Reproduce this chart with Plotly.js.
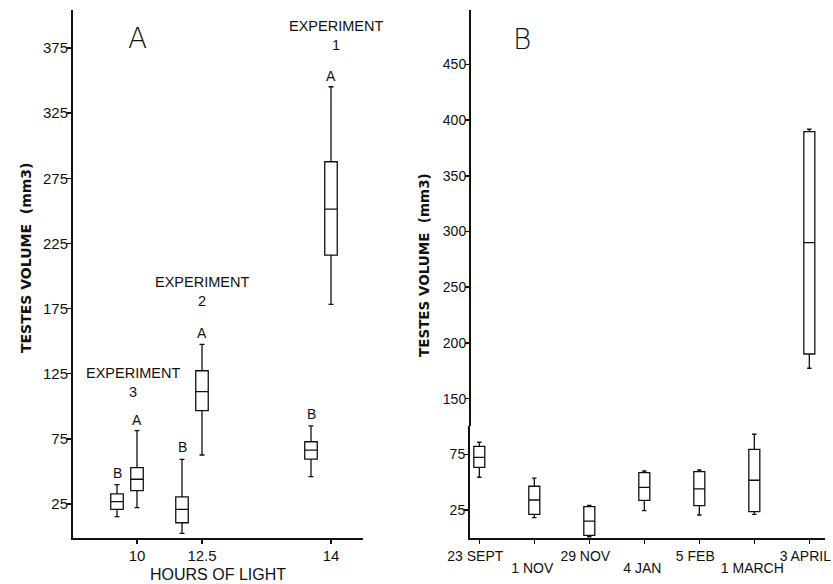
<!DOCTYPE html>
<html>
<head>
<meta charset="utf-8">
<script src="https://cdn.plot.ly/plotly-3.0.1.min.js"></script>
<style>html,body{margin:0;padding:0;background:#fff;}#chart{width:833px;height:584px;}</style>
</head>
<body>
<div id="chart"></div>
<script>
// ---------- Panel A data (testes volume, mm3) ----------
const hoursLabels = ['10', '12.5', '14'];
const experimentNames = ['3', '2', '1'];
// group "A" (long photoperiod in each experiment)
const grpA_low = [22.2, 62.6, 178.3];
const grpA_q1 = [35.2, 96.6, 216.1];
const grpA_med = [44.0, 111.2, 251.4];
const grpA_q3 = [52.9, 127.3, 287.7];
const grpA_high = [81.3, 147.6, 345.3];
// group "B" (control in each experiment)
const grpB_low = [15.3, 2.5, 46.0];
const grpB_q1 = [20.9, 10.6, 59.5];
const grpB_med = [26.8, 20.9, 66.4];
const grpB_q3 = [32.7, 30.4, 72.8];
const grpB_high = [39.8, 59.3, 84.9];

// ---------- Panel B data ----------
const dates = ['23 SEPT', '1 NOV', '29 NOV', '4 JAN', '5 FEB', '1 MARCH', '3 APRIL'];
const seas_low = [54.4, 18.1, 1.0, 24.4, 20.5, 21.1, 177.3];
const seas_q1 = [63.3, 21.1, 2.3, 33.7, 28.9, 23.5, 190.1];
const seas_med = [72.3, 34.0, 15.1, 45.4, 43.9, 51.7, 290.0];
const seas_q3 = [82.2, 46.3, 28.0, 58.5, 59.4, 79.5, 389.5];
const seas_high = [85.8, 53.7, 29.2, 60.0, 60.9, 93.0, 391.7];
const lowTicks = [25, 75];
const highTicks = [150, 200, 250, 300, 350, 400, 450];

// ---------- layout constants ----------
const W = 833, H = 584;
const px = v => v / W, py = v => (H - v) / H;
const hourSlot = [6.4, 12.9, 25.8];   // tick positions on panel A x axis
const ctrlOffset = -2.0;              // control box sits left of its tick
const breakLow = 100.4, breakHigh = 125.5; // axis break in panel B

const boxStyle = {
  type: 'box', fillcolor: 'rgba(255,255,255,0)',
  line: {color: '#111', width: 1.3}, whiskerwidth: 0.4,
  hoverinfo: 'skip', showlegend: false
};

const traces = [];
traces.push(Object.assign({}, boxStyle, {
  xaxis: 'x', yaxis: 'y', x: hourSlot, width: 1.25,
  q1: grpA_q1, median: grpA_med, q3: grpA_q3, lowerfence: grpA_low, upperfence: grpA_high
}));
traces.push(Object.assign({}, boxStyle, {
  xaxis: 'x', yaxis: 'y', x: hourSlot.map(v => v + ctrlOffset), width: 1.25,
  q1: grpB_q1, median: grpB_med, q3: grpB_q3, lowerfence: grpB_low, upperfence: grpB_high
}));

const lowIdx = [], highIdx = [];
seas_low.forEach((v, i) => (v > breakHigh ? highIdx : lowIdx).push(i));
const pick = (arr, idx) => idx.map(i => arr[i]);
[[lowIdx, 'y2'], [highIdx, 'y3']].forEach(([idx, ya]) => {
  traces.push(Object.assign({}, boxStyle, {
    xaxis: 'x2', yaxis: ya, x: idx, width: 0.2,
    q1: pick(seas_q1, idx), median: pick(seas_med, idx), q3: pick(seas_q3, idx),
    lowerfence: pick(seas_low, idx), upperfence: pick(seas_high, idx)
  }));
});
// carrier for the second (staggered) row of date labels
traces.push({type: 'scatter', mode: 'markers', x: [], y: [], xaxis: 'x3', yaxis: 'y2', showlegend: false, hoverinfo: 'skip'});

const font = 'Liberation Sans, Arial, sans-serif';
const axBase = {
  showline: true, linecolor: '#111', linewidth: 2, showgrid: false, zeroline: false,
  ticks: 'outside', ticklen: 4, tickwidth: 1.5, tickcolor: '#111',
  tickfont: {family: font, size: 15, color: '#111'}, fixedrange: true
};

const ann = [];
const txt = (o) => ann.push(Object.assign({showarrow: false, font: {family: font, size: 15, color: '#111'}}, o));
// panel letters
txt({xref: 'paper', yref: 'paper', x: px(126), y: py(20), text: 'A', font: {family: 'DejaVu Sans, sans-serif', size: 28, color: '#111', weight: 300}});
txt({xref: 'paper', yref: 'paper', x: px(522), y: py(21), text: 'B', font: {family: 'DejaVu Sans, sans-serif', size: 28, color: '#111', weight: 300}});
// significance letters
hourSlot.forEach((x, i) => {
  txt({xref: 'x', yref: 'y', x: x, y: grpA_high[i], yanchor: 'bottom', yshift: 1, text: 'A', font: {family: font, size: 14, color: '#111'}});
  txt({xref: 'x', yref: 'y', x: x + ctrlOffset, y: grpB_high[i], yanchor: 'bottom', yshift: 2, text: 'B', font: {family: font, size: 14, color: '#111'}});
});
// experiment labels
const expPos = [[6.0, 117.9], [12.9, 188.5], [26.3, 384.6]];
experimentNames.forEach((n, i) => {
  txt({xref: 'x', yref: 'y', x: expPos[i][0], y: expPos[i][1], text: 'EXPERIMENT<br>' + n, font: {family: font, size: 14.5, color: '#111'}});
});
// y titles
txt({xref: 'paper', yref: 'paper', x: px(16), y: py(258), textangle: -90, text: 'TESTES VOLUME  (mm3)', font: {family: 'DejaVu Sans, sans-serif', size: 14, color: '#111', weight: 'bold'}});
txt({xref: 'paper', yref: 'paper', x: px(424), y: py(265), textangle: -90, text: 'TESTES VOLUME  (mm3)', font: {family: 'DejaVu Sans, sans-serif', size: 13.5, color: '#111', weight: 'bold'}});

const bTickFont = {family: font, size: 14, color: '#111'};
const layout = {
  width: W, height: H, margin: {l: 0, r: 0, t: 0, b: 0},
  paper_bgcolor: '#fff', plot_bgcolor: 'rgba(0,0,0,0)', showlegend: false,
  xaxis: Object.assign({}, axBase, {
    domain: [px(73), px(363)], range: [0, 29], anchor: 'y',
    tickvals: hourSlot, ticktext: hoursLabels, ticklabelstandoff: -1,
    title: {text: 'HOURS OF LIGHT', font: {family: font, size: 16, color: '#111'}, standoff: 6}
  }),
  yaxis: Object.assign({}, axBase, {
    domain: [py(538), py(10)], range: [-1.1, 404.2], anchor: 'x',
    tickvals: [25, 75, 125, 175, 225, 275, 325, 375], ticklabelstandoff: -4
  }),
  xaxis2: Object.assign({}, axBase, {
    domain: [px(470), px(825)], range: [-0.169, 6.285], anchor: 'y2',
    tickvals: dates.map((d, i) => i),
    ticktext: dates.map((d, i) => (i % 2 ? '' : d)),
    tickfont: bTickFont, ticklabelstandoff: 0, ticklabelshift: -4, ticklabeloverflow: 'allow'
  }),
  xaxis3: {
    overlaying: 'x2', anchor: 'y2', domain: [px(470), px(825)], range: [-0.169, 6.285],
    showline: false, showgrid: false, zeroline: false, ticks: '', fixedrange: true,
    tickvals: dates.map((d, i) => i).filter(i => i % 2),
    ticktext: dates.filter((d, i) => i % 2),
    tickfont: bTickFont, ticklabelstandoff: 20, ticklabelshift: -2, ticklabeloverflow: 'allow'
  },
  yaxis2: Object.assign({}, axBase, {
    domain: [py(538), py(426)], range: [-0.13, breakLow], anchor: 'x2',
    tickvals: lowTicks, tickfont: bTickFont, ticklabelstandoff: -4
  }),
  yaxis3: Object.assign({}, axBase, {
    domain: [py(426), py(10)], range: [breakHigh, 498.7], anchor: 'free', position: px(470),
    tickvals: highTicks, tickfont: bTickFont, ticklabelstandoff: -4
  }),
  annotations: ann
};

Plotly.newPlot('chart', traces, layout, {staticPlot: true, displayModeBar: false});
</script>
</body>
</html>
